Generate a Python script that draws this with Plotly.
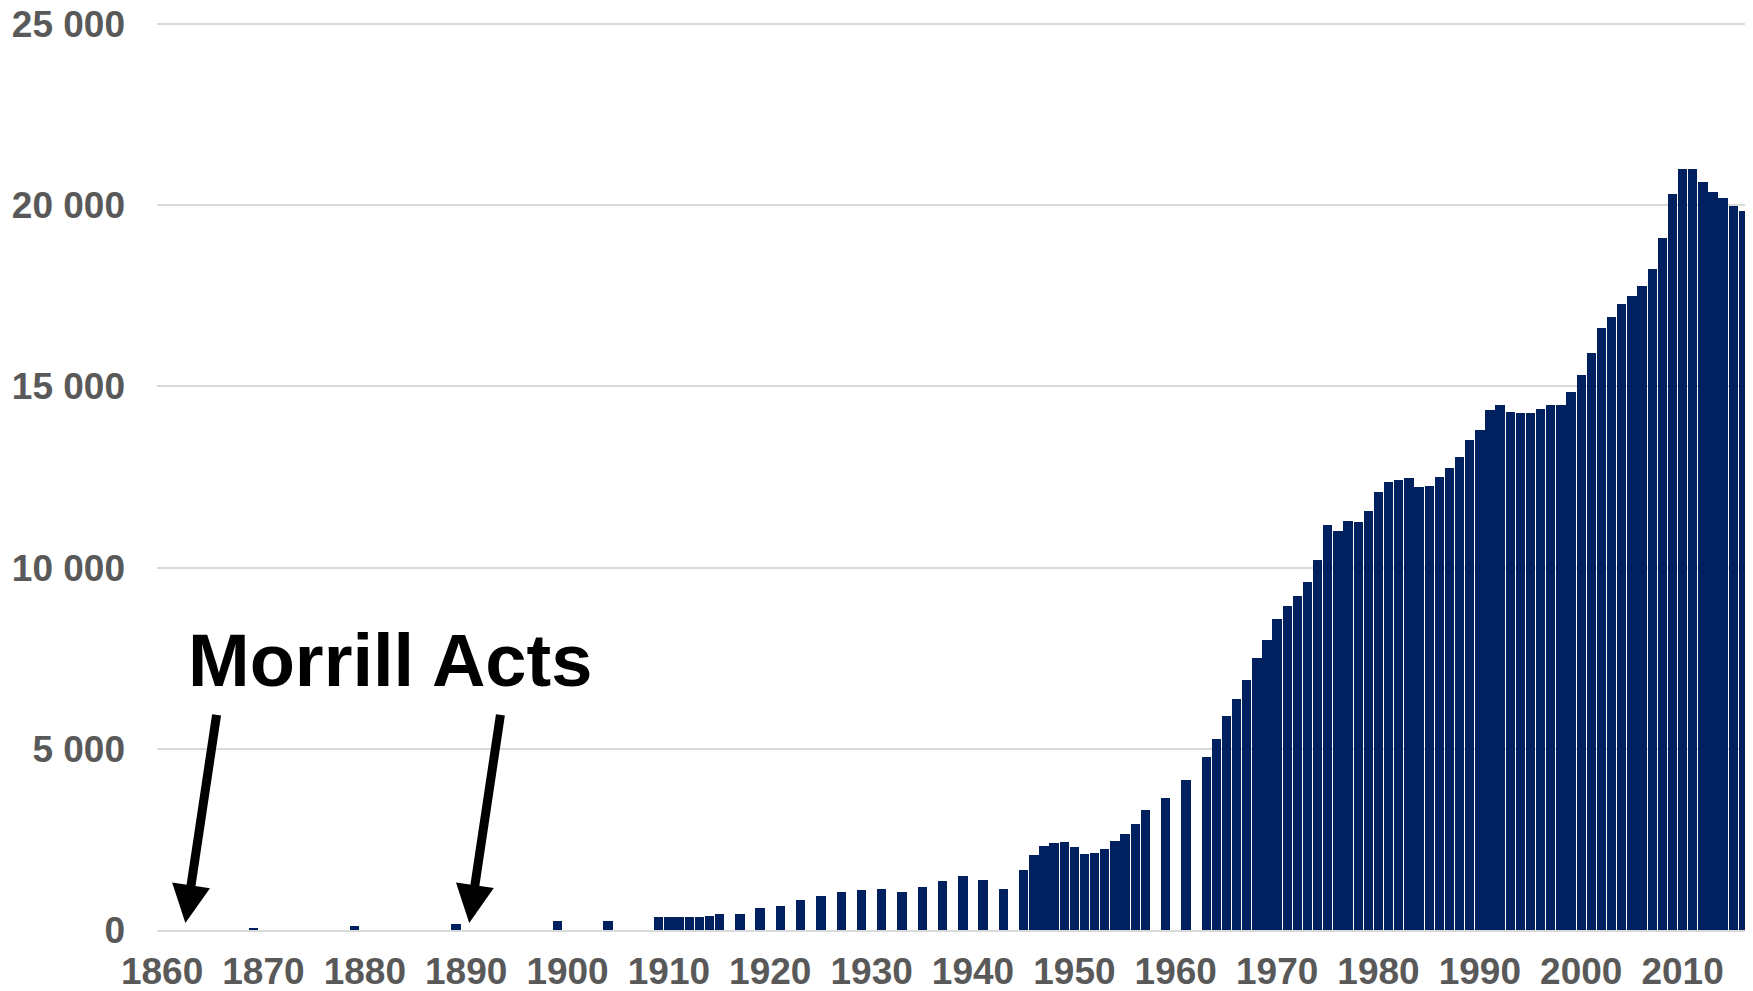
import plotly.graph_objects as go

# Fall enrollment (thousands) by year
years = [1869, 1879, 1889, 1899, 1904,
         1909, 1910, 1911, 1912, 1913, 1914, 1915,
         1917, 1919, 1921, 1923, 1925, 1927, 1929, 1931, 1933, 1935, 1937, 1939, 1941, 1943,
         1945, 1946, 1947, 1948, 1949, 1950, 1951, 1952, 1953, 1954, 1955, 1956, 1957,
         1959, 1961,
         1963, 1964, 1965, 1966, 1967, 1968, 1969, 1970, 1971, 1972, 1973, 1974, 1975,
         1976, 1977, 1978, 1979, 1980, 1981, 1982, 1983, 1984, 1985, 1986, 1987, 1988,
         1989, 1990, 1991, 1992, 1993, 1994, 1995, 1996, 1997, 1998, 1999, 2000, 2001,
         2002, 2003, 2004, 2005, 2006, 2007, 2008, 2009, 2010, 2011, 2012, 2013, 2014,
         2015, 2016]
values = [50, 115, 157, 238, 262,
          355, 355, 355, 357, 370, 395, 430,
          432, 598, 672, 820, 940, 1050, 1100, 1143, 1052, 1198, 1346, 1494, 1390, 1143,
          1668, 2073, 2330, 2400, 2442, 2280, 2100, 2130, 2225, 2447, 2650, 2915, 3324,
          3640, 4145,
          4780, 5278, 5916, 6385, 6908, 7510, 8004, 8581, 8945, 9210, 9595, 10215, 11180,
          11005, 11280, 11252, 11560, 12090, 12360, 12415, 12460, 12235, 12240, 12500, 12760, 13050,
          13535, 13810, 14352, 14485, 14300, 14272, 14255, 14370, 14500, 14500, 14848, 15308, 15925,
          16615, 16908, 17275, 17487, 17760, 18240, 19095, 20305, 21010, 21000, 20635, 20370, 20200,
          19975, 19838]

x_tick_vals = list(range(1860, 2011, 10))
x_tick_text = [str(v) for v in x_tick_vals]
y_tick_vals = [0, 5000, 10000, 15000, 20000, 25000]
y_tick_text = ["0", "5 000", "10 000", "15 000", "20 000", "25 000"]

annotation_text = "Morrill Acts"
act_years = [1862, 1890]

FONT = "Liberation Sans, Arial, sans-serif"
tickfont = dict(family=FONT, size=37, color="#595959", weight="bold")

fig = go.Figure()
fig.add_trace(go.Bar(
    x=years, y=values, width=0.92,
    marker=dict(color="#002060", line=dict(width=0)),
    hoverinfo="x+y",
))

annotations = [dict(
    x=1862.4, y=7450, xref="x", yref="y", xanchor="left", yanchor="middle",
    text=annotation_text, showarrow=False,
    font=dict(family=FONT, size=74, color="#000000", weight="bold"),
)]
for yr in act_years:
    annotations.append(dict(
        x=yr + 0.3, y=190, xref="x", yref="y",
        ax=yr + 3.4, ay=5980, axref="x", ayref="y",
        text="", showarrow=True,
        arrowhead=2, arrowsize=0.85, arrowwidth=9, arrowcolor="#000000",
    ))

# page body has an 8px default margin, so the figure is sized to fit inside it
fig.update_layout(
    width=1745, height=983,
    margin=dict(l=149, r=4, t=15, b=61, autoexpand=False),
    paper_bgcolor="white", plot_bgcolor="white",
    showlegend=False,
    bargap=0,
    annotations=annotations,
    xaxis=dict(
        range=[1859.5, 2016.55], automargin=False,
        tickvals=x_tick_vals, ticktext=x_tick_text,
        tickfont=tickfont, showgrid=False, zeroline=False,
        showline=True, linecolor="#d9d9d9", linewidth=2,
        ticks="", ticklabelstandoff=8, ticklabeloverflow="allow",
    ),
    yaxis=dict(
        range=[0, 25030], automargin=False,
        tickvals=y_tick_vals, ticktext=y_tick_text,
        tickfont=tickfont, showgrid=True, gridcolor="#d9d9d9", gridwidth=2,
        zeroline=False, showline=False, ticks="", ticklabelstandoff=31,
        ticklabeloverflow="allow",
    ),
)

fig.write_html("out.html")
